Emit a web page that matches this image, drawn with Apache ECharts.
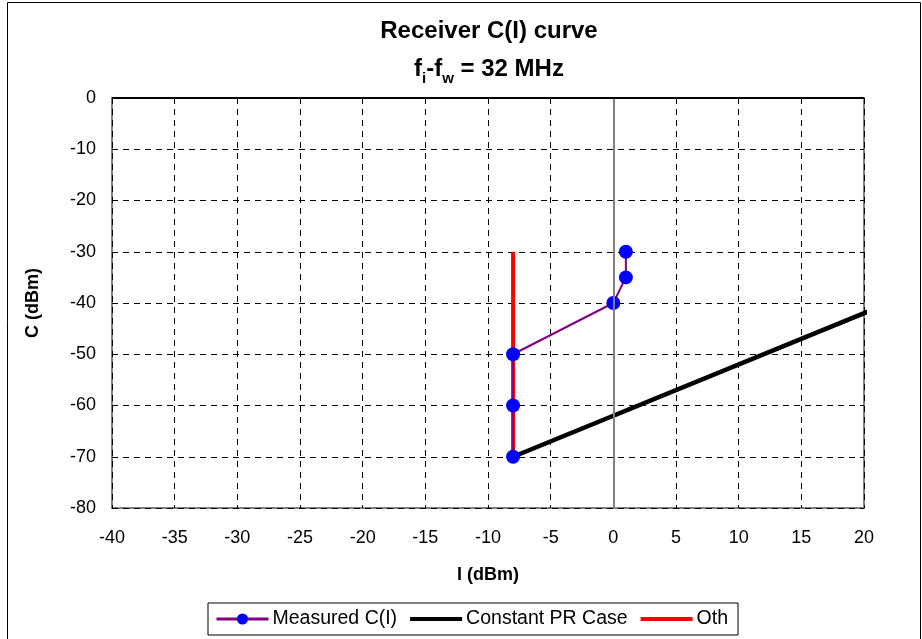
<!DOCTYPE html>
<html>
<head>
<meta charset="utf-8">
<script src="https://cdn.jsdelivr.net/npm/echarts@6/dist/echarts.min.js"></script>
<style>
html,body{margin:0;padding:0;background:#fff;}
#chart{width:922px;height:639px;}
</style>
</head>
<body>
<div id="chart"></div>
<script>
// ---- data ----
var xTicks = [-40,-35,-30,-25,-20,-15,-10,-5,0,5,10,15,20];
var yTicks = [0,-10,-20,-30,-40,-50,-60,-70,-80];
var measuredI = [-8, -8, -8, 0, 1, 1];
var measuredC = [-70, -60, -50, -40, -35, -30];
var constPrI = [-8, 20.7];
var constPrC = [-70, -41.3];
var othI = [-8, -8];
var othC = [-70, -30];
var seriesNames = ['Measured C(I)', 'Constant PR Case', 'Oth'];
var titleLine1 = 'Receiver C(I) curve';

function pairs(xs, ys){ return xs.map(function(x,i){ return [x, ys[i]]; }); }

var FONT = '"Liberation Sans", Arial, sans-serif';
var chart = echarts.init(document.getElementById('chart'), null, {renderer:'canvas'});
var option = {
  animation: false,
  backgroundColor: '#fff',
  grid: {
    left: 112, right: 58, top: 98, bottom: 131,
    show: true, borderColor: '#808080', borderWidth: 2, backgroundColor: '#fff'
  },
  legend: {
    data: [
      {name: seriesNames[0], itemStyle: {color: '#0000ff'}, lineStyle: {color: '#800080', width: 3}},
      {name: seriesNames[1], itemStyle: {color: 'rgba(0,0,0,0)', borderWidth: 0}, lineStyle: {color: '#000', width: 4}},
      {name: seriesNames[2], itemStyle: {color: 'rgba(0,0,0,0)', borderWidth: 0}, lineStyle: {color: '#ff0000', width: 4}}
    ],
    left: 208, top: 603,
    borderColor: '#000', borderWidth: 1,
    padding: [6, 10, 6, 7],
    itemWidth: 52, itemHeight: 14, itemGap: 11,
    textStyle: {fontFamily: FONT, fontSize: 19.5, color: '#000', padding: [0,0,0,-1]}
  },
  xAxis: {
    type: 'value', min: -40, max: 20, interval: 5,
    name: 'I (dBm)', nameLocation: 'middle', nameGap: 58,
    nameTextStyle: {fontFamily: FONT, fontSize: 18, fontWeight: 'bold', color: '#000'},
    axisLine: {show: false, onZero: false},
    axisTick: {show: false},
    axisLabel: {fontFamily: FONT, fontSize: 18, color: '#000', margin: 21,
      formatter: function(v){ return xTicks.indexOf(v) >= 0 ? String(v) : ''; }},
    splitLine: {show: true, lineStyle: {color: '#000', type: [6,5], width: 1}}
  },
  yAxis: {
    type: 'value', min: -80, max: 0, interval: 10,
    name: 'C (dBm)', nameLocation: 'middle', nameGap: 70,
    nameTextStyle: {fontFamily: FONT, fontSize: 18, fontWeight: 'bold', color: '#000'},
    axisLine: {show: false, onZero: false},
    axisTick: {show: false},
    axisLabel: {fontFamily: FONT, fontSize: 18, color: '#000', margin: 16,
      formatter: function(v){ return yTicks.indexOf(v) >= 0 ? String(v) : ''; }},
    splitLine: {show: true, lineStyle: {color: '#000', type: [6,5], width: 1}}
  },
  series: [
    {
      name: 'Oth', type: 'line', data: pairs(othI, othC),
      symbol: 'none', z: 2,
      lineStyle: {color: '#ff0000', width: 4},
      itemStyle: {color: '#ff0000'},
      markLine: {
        silent: true, symbol: 'none', label: {show: false},
        data: [
          {xAxis: 0, lineStyle: {color: '#808080', width: 2, type: 'solid'}},
          {yAxis: 0, lineStyle: {color: '#000', width: 2, type: 'solid'}}
        ]
      }
    },
    {
      name: 'Constant PR Case', type: 'line', data: pairs(constPrI, constPrC),
      symbol: 'none', z: 3, clip: false,
      lineStyle: {color: '#000', width: 4.5},
      itemStyle: {color: '#000'}
    },
    {
      name: 'Measured C(I)', type: 'line', data: pairs(measuredI, measuredC),
      symbol: 'circle', symbolSize: 14, z: 4,
      lineStyle: {color: '#800080', width: 2},
      itemStyle: {color: '#0000ff', borderWidth: 0}
    }
  ],
  graphic: [
    {type: 'rect', shape: {x: 7.5, y: 2.5, width: 913, height: 645},
     style: {fill: 'none', stroke: '#000', lineWidth: 1}, silent: true, z: -10},
    {type: 'text', x: 489, y: 31, silent: true,
     style: {text: titleLine1, font: 'bold 24px "Liberation Sans", Arial, sans-serif',
             fill: '#000', textAlign: 'center', textVerticalAlign: 'middle'}},
    {type: 'text', x: 489, y: 66, silent: true,
     style: {text: '{t|f}{s|i}{t|-f}{s|w}{t| = 32 MHz}', textAlign: 'center', textVerticalAlign: 'middle',
       rich: {
         t: {fontSize: 24, fontWeight: 'bold', fontFamily: FONT, fill: '#000', color: '#000', lineHeight: 30, verticalAlign: 'bottom'},
         s: {fontSize: 15, fontWeight: 'bold', fontFamily: FONT, fill: '#000', color: '#000', lineHeight: 30, verticalAlign: 'bottom', padding: [0,0,-5,0]}
       }}}
  ]
};
chart.setOption(option);
</script>
</body>
</html>
